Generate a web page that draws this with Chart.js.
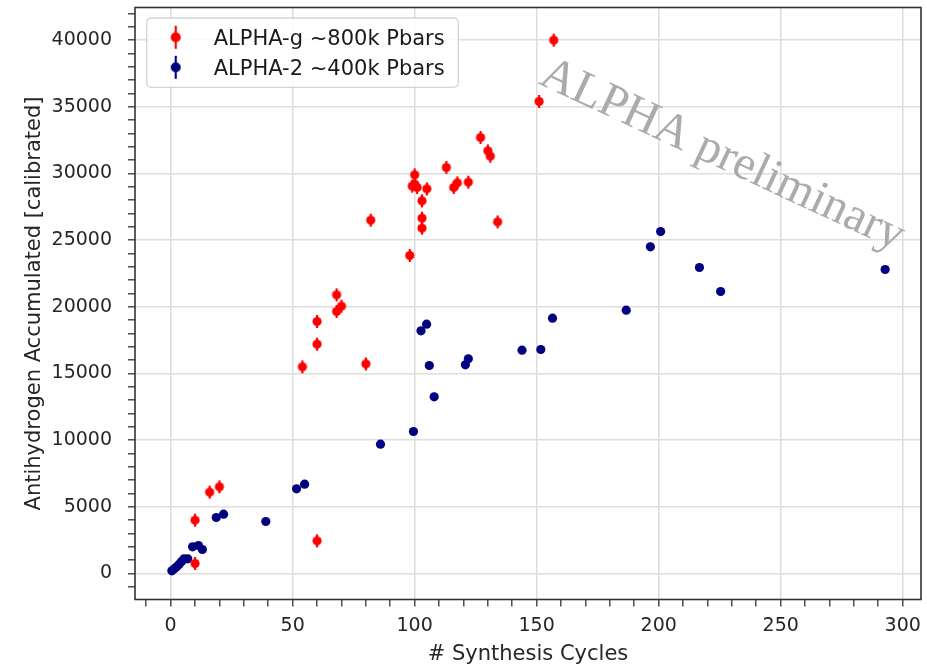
<!DOCTYPE html>
<html><head><meta charset="utf-8">
<script src="https://cdn.jsdelivr.net/npm/chart.js@4"></script>
<style>html,body{margin:0;padding:0;background:#fff;overflow:hidden}</style>
</head><body>
<canvas id="c" width="927" height="664"></canvas>
<script>
// ---- data ----
const alphaGLabel = 'ALPHA-g ~800k Pbars';
const alphaGCycles = [10, 10, 16, 20, 54, 60, 60, 60, 68, 70, 68, 80, 82, 98, 99, 100, 100, 101, 103, 103, 103, 105, 113, 116, 117.5, 122, 127, 130, 131, 134, 151, 157];
const alphaGCounts = [750, 4000, 6100, 6500, 15500, 2450, 17200, 18900, 19650, 20050, 20900, 15720, 26500, 23850, 29050, 29900, 29200, 28950, 27950, 26650, 25900, 28850, 30450, 28950, 29300, 29350, 32700, 31700, 31300, 26370, 35400, 40000];

const alpha2Label = 'ALPHA-2 ~400k Pbars';
const alpha2Cycles = [0.5, 1.5, 2.5, 3.5, 4.5, 5.5, 7, 9, 11.4, 13, 18.7, 21.7, 39, 51.6, 54.9, 86, 99.5, 102.6, 104.9, 106, 108, 120.8, 122, 144, 151.7, 156.5, 186.7, 196.6, 200.8, 216.7, 225.4, 292.8];
const alpha2Counts = [200, 350, 500, 700, 900, 1100, 1100, 2000, 2100, 1800, 4200, 4450, 3900, 6350, 6700, 9700, 10650, 18200, 18700, 15600, 13250, 15650, 16100, 16750, 16800, 19150, 19750, 24500, 25650, 22950, 21150, 22800];

const xMajorTicks = [0, 50, 100, 150, 200, 250, 300];
const yMajorTicks = [0, 5000, 10000, 15000, 20000, 25000, 30000, 35000, 40000];
const yMinorStep = 1000;

const xTitle = '# Synthesis Cycles';
const yTitle = 'Antihydrogen Accumulated [calibrated]';
const watermarkText = 'ALPHA preliminary';

const RED = '#ff0000';
const NAVY = '#000080';
const FONT = "'DejaVu Sans', sans-serif";

function makeMarker(color, r, halfBar) {
  const cv = document.createElement('canvas');
  const w = Math.ceil(2 * r + 2), h = Math.ceil(2 * halfBar + 2);
  cv.width = w; cv.height = h;
  const g = cv.getContext('2d');
  g.strokeStyle = color; g.lineWidth = 2.2;
  g.beginPath(); g.moveTo(w / 2, 1); g.lineTo(w / 2, h - 1); g.stroke();
  g.fillStyle = color;
  g.beginPath(); g.arc(w / 2, h / 2, r, 0, Math.PI * 2); g.fill();
  return cv;
}
const redMarker = makeMarker(RED, 4.6, 6.5);
const legendMarkers = [makeMarker(RED, 5, 11.5), makeMarker(NAVY, 5, 11.5)];

const toPts = (xs, ys) => xs.map((x, i) => ({x: x, y: ys[i]}));

const framePlugin = {
  id: 'frame',
  afterDraw(chart) {
    const {ctx, chartArea: a} = chart;
    ctx.save();
    ctx.strokeStyle = '#333'; ctx.lineWidth = 1.6;
    ctx.strokeRect(a.left, a.top, a.right - a.left, a.bottom - a.top);
    ctx.restore();
  }
};

const watermarkPlugin = {
  id: 'watermark',
  afterDatasetsDraw(chart) {
    const {ctx, chartArea: a} = chart;
    const x = a.left + 0.512 * (a.right - a.left);
    const y = a.top + 0.128 * (a.bottom - a.top);
    ctx.save();
    ctx.translate(x, y);
    ctx.rotate(25 * Math.PI / 180);
    ctx.font = "48px 'Liberation Serif', 'DejaVu Serif', serif";
    ctx.fillStyle = '#ababab';
    ctx.textAlign = 'left'; ctx.textBaseline = 'alphabetic';
    ctx.fillText(watermarkText, 0, 0);
    ctx.restore();
  }
};

const legendPlugin = {
  id: 'customLegend',
  afterDraw(chart) {
    const {ctx, chartArea: a} = chart;
    const bx = a.left + 11.7, by = a.top + 10.5, bw = 311.6, bh = 69.3, r = 5;
    ctx.save();
    ctx.beginPath();
    ctx.moveTo(bx + r, by); ctx.lineTo(bx + bw - r, by); ctx.quadraticCurveTo(bx + bw, by, bx + bw, by + r);
    ctx.lineTo(bx + bw, by + bh - r); ctx.quadraticCurveTo(bx + bw, by + bh, bx + bw - r, by + bh);
    ctx.lineTo(bx + r, by + bh); ctx.quadraticCurveTo(bx, by + bh, bx, by + bh - r);
    ctx.lineTo(bx, by + r); ctx.quadraticCurveTo(bx, by, bx + r, by);
    ctx.closePath();
    ctx.fillStyle = 'rgba(255,255,255,0.85)'; ctx.fill();
    ctx.strokeStyle = '#d4d4d4'; ctx.lineWidth = 1.3; ctx.stroke();
    ctx.font = '21px ' + FONT;
    ctx.fillStyle = '#1a1a1a';
    ctx.textBaseline = 'alphabetic'; ctx.textAlign = 'left';
    chart.data.datasets.forEach((ds, i) => {
      const cy = by + 19.3 + i * 30;
      const m = legendMarkers[i];
      ctx.drawImage(m, bx + 29 - m.width / 2, cy - m.height / 2);
      ctx.fillText(ds.label, bx + 67, cy + 7.5);
    });
    ctx.restore();
  }
};

function zeroPad(scale) { scale.paddingTop = 0; scale.paddingBottom = 0; scale.paddingLeft = 0; scale.paddingRight = 0; }

new Chart(document.getElementById('c'), {
  type: 'scatter',
  data: {
    datasets: [
      { label: alphaGLabel, data: toPts(alphaGCycles, alphaGCounts), pointStyle: redMarker,
        backgroundColor: RED, borderColor: RED, pointRadius: 5, pointHoverRadius: 5 },
      { label: alpha2Label, data: toPts(alpha2Cycles, alpha2Counts), pointStyle: 'circle',
        backgroundColor: NAVY, borderColor: NAVY, borderWidth: 0, pointRadius: 4.6, pointHoverRadius: 4.6 }
    ]
  },
  options: {
    responsive: false, animation: false, devicePixelRatio: 1,
    layout: { padding: { left: 0, right: 4, top: 7.5, bottom: 0 } },
    plugins: { legend: { display: false }, tooltip: { enabled: false } },
    scales: {
      x: {
        type: 'linear', min: -14.6, max: 307.5,
        afterFit(s) { s.height = 64.5; zeroPad(s); },
        border: { display: false },
        grid: {
          color: c => (c.tick && xMajorTicks.includes(c.tick.value)) ? '#dedede' : 'rgba(0,0,0,0)',
          lineWidth: 1.6, tickColor: '#333', tickLength: 7, tickWidth: 1.3
        },
        ticks: {
          stepSize: 10, precision: 0, includeBounds: false, autoSkip: false, maxRotation: 0,
          padding: 8, color: '#262626', font: { family: FONT, size: 19 },
          callback: v => xMajorTicks.includes(v) ? String(v) : ''
        },
        title: { display: true, text: xTitle, color: '#262626',
          font: { family: FONT, size: 21, lineHeight: 1 }, padding: { top: 0, bottom: -1 } }
      },
      y: {
        type: 'linear', min: -1950, max: 42450,
        afterBuildTicks(s) {
          const t = [];
          for (let v = Math.ceil(s.min / yMinorStep) * yMinorStep; v <= s.max; v += yMinorStep) t.push({value: v});
          s.ticks = t;
        },
        afterFit(s) { s.width = 135; zeroPad(s); },
        border: { display: false },
        grid: {
          color: c => (c.tick && yMajorTicks.includes(c.tick.value)) ? '#dedede' : 'rgba(0,0,0,0)',
          lineWidth: 1.6, tickColor: '#333', tickLength: 7, tickWidth: 1.3
        },
        ticks: {
          precision: 0, autoSkip: false,
          padding: 16, color: '#262626', font: { family: FONT, size: 19 },
          callback: v => yMajorTicks.includes(v) ? String(v) : ''
        },
        title: { display: true, text: yTitle, color: '#262626',
          font: { family: FONT, size: 21, lineHeight: 1 }, padding: { top: 24, bottom: 0 } }
      }
    }
  },
  plugins: [watermarkPlugin, legendPlugin, framePlugin]
});
</script>
</body></html>
